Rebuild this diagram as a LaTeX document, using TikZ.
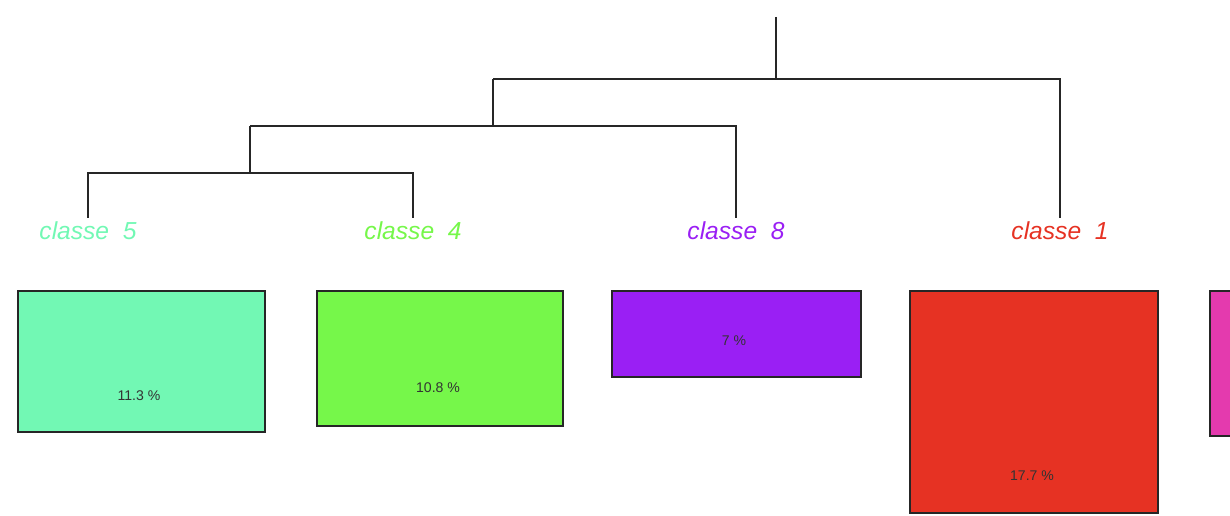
\documentclass[tikz,border=0pt]{standalone}
\usepackage{fontspec}
\setmainfont{Liberation Sans}
\usetikzlibrary{positioning}

\definecolor{cfive}{HTML}{72F8B4}
\definecolor{cfour}{HTML}{76F74A}
\definecolor{ceight}{HTML}{9A1FF4}
\definecolor{cone}{HTML}{E63223}
\definecolor{csix}{HTML}{E43AAE}

\begin{document}
\begin{tikzpicture}[x=0.02cm, y=-0.02cm,
    branch/.style={draw=black!85, line width=1.1pt},
    leaf/.style={font=\itshape\fontsize{14}{16}\selectfont, inner sep=0pt},
    classbox/.style={draw=black!85, line width=1.1pt, anchor=north west,
                     inner sep=0pt},
    pct/.style={font=\fontsize{8}{9}\selectfont, text=black!80, inner sep=0pt}]
  \useasboundingbox (0,0) rectangle (1230,516);
  \clip (0,0) rectangle (1230,516);

  % dendrogram
  \coordinate (top) at (776,17);
  \coordinate (m1) at (776,79);
  \coordinate (m2) at (493,126);
  \coordinate (m3) at (250,173);
  \coordinate (t5) at (88,218);
  \coordinate (t4) at (413,218);
  \coordinate (t8) at (736,218);
  \coordinate (t1) at (1060,218);

  \draw[branch] (top) -- (m1);
  \draw[branch] (m2 |- m1) -- (m1) -- (t1 |- m1) -- (t1);
  \draw[branch] (m2 |- m1) -- (m2);
  \draw[branch] (m3 |- m2) -- (m2) -- (t8 |- m2) -- (t8);
  \draw[branch] (m3 |- m2) -- (m3);
  \draw[branch] (t5) -- (t5 |- m3) -- (t4 |- m3) -- (t4);

  % class labels
  \node[leaf, text=cfive]  (l5) at (88,231)   {classe\ \ 5};
  \node[leaf, text=cfour]  (l4) at (413,231)  {classe\ \ 4};
  \node[leaf, text=ceight] (l8) at (736,231)  {classe\ \ 8};
  \node[leaf, text=cone]   (l1) at (1060,231) {classe\ \ 1};

  % boxes
  \node[classbox, fill=cfive, minimum width=4.94cm, minimum height=2.82cm] (b5) at (17,290) {};
  \node[classbox, fill=cfour, minimum width=4.92cm, minimum height=2.70cm] (b4) at (316,290) {};
  \node[classbox, fill=ceight, minimum width=4.98cm, minimum height=1.72cm] (b8) at (611,290) {};
  \node[classbox, fill=cone, minimum width=4.96cm, minimum height=4.44cm] (b1) at (909,290) {};
  \node[classbox, fill=csix, minimum width=2cm, minimum height=2.90cm] (b6) at (1209,290) {};

  \node[pct] (p5) at (139,396) {11.3 \%};
  \node[pct] (p4) at (438,388) {10.8 \%};
  \node[pct] (p8) at (734,341) {7 \%};
  \node[pct] (p1) at (1032,476) {17.7 \%};
\end{tikzpicture}
\end{document}
